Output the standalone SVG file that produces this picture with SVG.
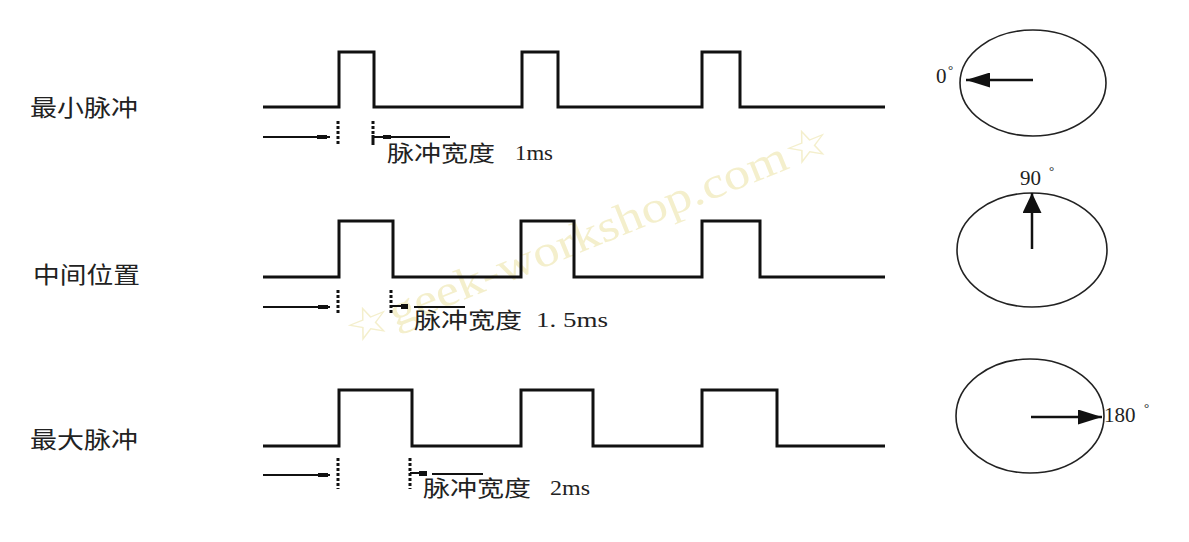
<svg xmlns="http://www.w3.org/2000/svg" width="1189" height="542" viewBox="0 0 1189 542">
<style>
.wave{fill:none;stroke:#111;stroke-width:3;stroke-linejoin:miter}
.lead{stroke:#111;stroke-width:2;fill:none}
.dot{stroke:#111;stroke-width:3;stroke-dasharray:3,2;fill:none}
.blk{fill:#111}
.lbl{font-family:"Noto Sans CJK SC",serif;font-size:23px;fill:#222}
.w{font-family:"Noto Sans CJK SC",serif;font-size:22px;fill:#222}
.num{font-family:"Liberation Serif","DejaVu Serif",serif;font-size:21px;fill:#222}
.deg{font-family:"Liberation Serif",serif;font-size:21px;fill:#222}
.sup{font-family:"Liberation Serif",serif;font-size:13px;fill:#222}
.dial{fill:none;stroke:#222;stroke-width:1.6}
.needle{stroke:#111;stroke-width:2.5}
.wm{font-family:"Liberation Serif",serif;font-size:44px;fill:#f4efcc}
</style>
<defs>
<marker id="ah" viewBox="0 0 24 15" refX="24" refY="7.5" markerWidth="24" markerHeight="15" markerUnits="userSpaceOnUse" orient="auto">
<path d="M0,0 L24,7.5 L0,15 z" fill="#111"/>
</marker>
<marker id="ah2" viewBox="0 0 20 19" refX="20" refY="9.5" markerWidth="20" markerHeight="19" markerUnits="userSpaceOnUse" orient="auto">
<path d="M0,0 L20,9.5 L0,19 z" fill="#111"/>
</marker>
</defs>
<text class="wm" transform="translate(352,345) rotate(-22)" textLength="520" lengthAdjust="spacingAndGlyphs">☆geek-workshop.com☆</text>

<g id="row-min">
<text class="lbl" x="30" y="116" textLength="108" lengthAdjust="spacingAndGlyphs">最小脉冲</text>
<path class="wave" d="M263,107 H339 V52 H374 V107 H522 V52 H558 V107 H702 V52 H740 V107 H885"/>
<line class="lead" x1="263" y1="137" x2="330" y2="137"/>
<rect class="blk" x="317" y="135" width="10" height="4"/>
<line class="dot" x1="338" y1="121" x2="338" y2="145"/>
<line class="dot" x1="373" y1="121" x2="373" y2="135"/>
<line class="lead" x1="373" y1="135" x2="373" y2="145" style="stroke-width:3"/>
<line class="lead" x1="373" y1="137" x2="450" y2="137"/>
<rect class="blk" x="383" y="135" width="8" height="4"/>
<text class="w" x="387" y="161" textLength="108" lengthAdjust="spacingAndGlyphs">脉冲宽度</text>
<text class="num" x="515" y="160" textLength="38" lengthAdjust="spacingAndGlyphs">1ms</text>
</g>

<g id="row-mid">
<text class="lbl" x="33" y="283" textLength="107" lengthAdjust="spacingAndGlyphs">中间位置</text>
<path class="wave" d="M263,277 H339 V221 H393 V277 H521 V221 H574 V277 H702 V221 H760 V277 H885"/>
<line class="lead" x1="263" y1="307" x2="330" y2="307"/>
<rect class="blk" x="318" y="305" width="10" height="4"/>
<line class="dot" x1="338" y1="290" x2="338" y2="315"/>
<line class="dot" x1="391" y1="290" x2="391" y2="315"/>
<line class="lead" x1="391" y1="306" x2="406" y2="306"/>
<rect class="blk" x="401" y="304" width="7" height="5"/>
<line class="lead" x1="414" y1="307" x2="465" y2="307"/>
<text class="w" x="414" y="328" textLength="108" lengthAdjust="spacingAndGlyphs">脉冲宽度</text>
<text class="num" x="536" y="327" textLength="72" lengthAdjust="spacingAndGlyphs">1. 5ms</text>
</g>

<g id="row-max">
<text class="lbl" x="30" y="448" textLength="108" lengthAdjust="spacingAndGlyphs">最大脉冲</text>
<path class="wave" d="M263,446 H339 V390 H412 V446 H521 V390 H593 V446 H702 V390 H777 V446 H885"/>
<line class="lead" x1="263" y1="475" x2="330" y2="475"/>
<rect class="blk" x="318" y="473" width="10" height="4"/>
<line class="dot" x1="338" y1="458" x2="338" y2="489"/>
<line class="dot" x1="410" y1="458" x2="410" y2="489"/>
<line class="lead" x1="410" y1="473" x2="427" y2="473"/>
<rect class="blk" x="419" y="471" width="8" height="5"/>
<line class="lead" x1="432" y1="474" x2="483" y2="474"/>
<text class="w" x="423" y="496" textLength="108" lengthAdjust="spacingAndGlyphs">脉冲宽度</text>
<text class="num" x="550" y="495" textLength="40" lengthAdjust="spacingAndGlyphs">2ms</text>
</g>

<g id="dial-0">
<ellipse class="dial" cx="1033" cy="83" rx="73" ry="53"/>
<text class="deg" x="936" y="83">0</text>
<text class="sup" x="948" y="74">°</text>
</g>
<g id="dial-90">
<ellipse class="dial" cx="1032" cy="250" rx="75" ry="57"/>
<text class="deg" x="1020" y="185">90</text>
<text class="sup" x="1049" y="175">°</text>
</g>
<g id="dial-180">
<ellipse class="dial" cx="1030" cy="416" rx="74" ry="57"/>
<text class="deg" x="1104" y="422">180</text>
<text class="sup" x="1144" y="412">°</text>
</g>

<g id="connectors">
<line class="needle" x1="1033" y1="80" x2="966" y2="80" marker-end="url(#ah)"/>
<line class="needle" x1="1032" y1="249" x2="1032" y2="193" marker-end="url(#ah2)"/>
<line class="needle" x1="1031" y1="417" x2="1102" y2="417" marker-end="url(#ah)"/>
</g>
</svg>
